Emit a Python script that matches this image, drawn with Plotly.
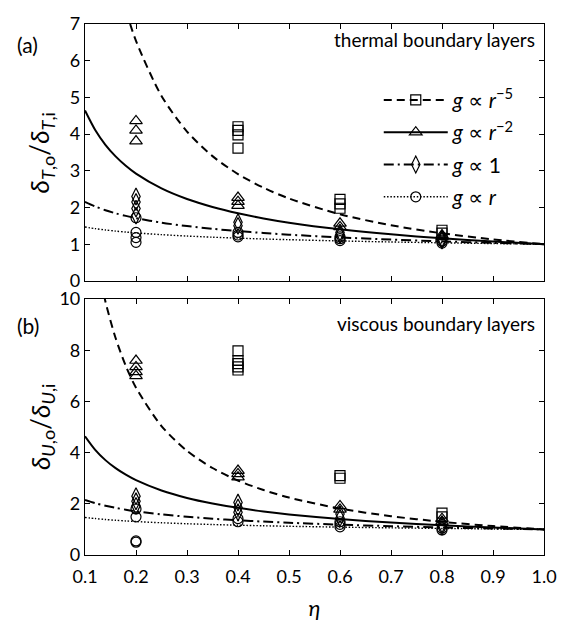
import plotly.graph_objects as go

# ---------------- data ----------------
# theoretical curves
eta_curve = [0.1, 0.12, 0.14, 0.16, 0.18, 0.2, 0.25, 0.3, 0.35, 0.4, 0.45, 0.5, 0.6, 0.7, 0.8, 0.9, 1.0]
curve_r5 = [14.68, 11.87, 9.91, 8.48, 7.39, 6.54, 5.04, 4.07, 3.40, 2.91, 2.54, 2.245, 1.815, 1.516, 1.297, 1.131, 1.0]
curve_r2 = [4.642, 4.111, 3.708, 3.393, 3.137, 2.924, 2.520, 2.231, 2.014, 1.842, 1.703, 1.587, 1.406, 1.268, 1.160, 1.073, 1.0]
curve_1 = [2.154, 2.028, 1.926, 1.842, 1.771, 1.710, 1.587, 1.494, 1.419, 1.357, 1.305, 1.260, 1.186, 1.126, 1.077, 1.036, 1.0]
curve_r = [1.468, 1.424, 1.388, 1.357, 1.331, 1.308, 1.260, 1.222, 1.191, 1.165, 1.142, 1.1225, 1.089, 1.061, 1.038, 1.018, 1.0]

# (a) thermal boundary layers
T_r5_eta = [0.4, 0.4, 0.4, 0.4, 0.6, 0.6, 0.6, 0.8, 0.8]
T_r5_val = [4.2, 4.1, 3.98, 3.62, 2.22, 2.1, 1.98, 1.38, 1.3]
T_r2_eta = [0.2, 0.2, 0.2, 0.4, 0.4, 0.4, 0.6, 0.6, 0.8, 0.8]
T_r2_val = [4.36, 4.1, 3.81, 2.27, 2.16, 2.05, 1.57, 1.47, 1.25, 1.2]
T_1_eta = [0.2, 0.2, 0.2, 0.2, 0.4, 0.4, 0.6, 0.6, 0.8, 0.8]
T_1_val = [2.3, 2.15, 1.97, 1.78, 1.6, 1.5, 1.32, 1.25, 1.15, 1.1]
T_r_eta = [0.2, 0.2, 0.2, 0.2, 0.4, 0.4, 0.4, 0.6, 0.6, 0.6, 0.8, 0.8]
T_r_val = [1.72, 1.32, 1.18, 1.05, 1.32, 1.25, 1.2, 1.2, 1.15, 1.1, 1.08, 1.03]

# (b) viscous boundary layers
U_r5_eta = [0.4, 0.4, 0.4, 0.4, 0.4, 0.6, 0.6, 0.8, 0.8]
U_r5_val = [7.98, 7.6, 7.48, 7.35, 7.23, 3.1, 3.0, 1.64, 1.49]
U_r2_eta = [0.2, 0.2, 0.2, 0.2, 0.4, 0.4, 0.4, 0.6, 0.6, 0.8, 0.8]
U_r2_val = [7.6, 7.35, 7.16, 7.0, 3.3, 3.17, 3.04, 1.92, 1.78, 1.42, 1.3]
U_1_eta = [0.2, 0.2, 0.2, 0.4, 0.4, 0.4, 0.6, 0.6, 0.8, 0.8]
U_1_val = [2.3, 2.1, 1.92, 2.05, 1.86, 1.67, 1.6, 1.45, 1.2, 1.1]
U_r_eta = [0.2, 0.2, 0.2, 0.2, 0.4, 0.4, 0.6, 0.6, 0.6, 0.8, 0.8]
U_r_val = [1.8, 1.49, 0.55, 0.5, 1.42, 1.3, 1.3, 1.2, 1.1, 1.05, 0.98]

x_ticks = [0.1, 0.2, 0.3, 0.4, 0.5, 0.6, 0.7, 0.8, 0.9, 1.0]
x_ticklabels = ["0.1", "0.2", "0.3", "0.4", "0.5", "0.6", "0.7", "0.8", "0.9", "1.0"]
yT_ticks = [0, 1, 2, 3, 4, 5, 6, 7]
yU_ticks = [0, 2, 4, 6, 8, 10]

legend_names = ["<i>g</i> ∝ <i>r</i><sup>−5</sup>", "<i>g</i> ∝ <i>r</i><sup>−2</sup>",
                "<i>g</i> ∝ 1", "<i>g</i> ∝ <i>r</i>"]
ytitle_T = "<i>δ</i><sub><i>T</i>,o</sub>/<i>δ</i><sub><i>T</i>,i</sub>"
ytitle_U = "<i>δ</i><sub><i>U</i>,o</sub>/<i>δ</i><sub><i>U</i>,i</sub>"

# ---------------- styles ----------------
FONT = "Lato, DejaVu Sans, sans-serif"
styles = [
    dict(dash="8px,5px", width=2.0, symbol="square-open", size=10),
    dict(dash="solid", width=2.0, symbol="triangle-up-open", size=11),
    dict(dash="10px,4px,2px,4px", width=2.0, symbol="diamond-tall-open", size=12),
    dict(dash="1.5px,1.8px", width=1.4, symbol="circle-open", size=10),
]
curves = [curve_r5, curve_r2, curve_1, curve_r]
T_sets = [(T_r5_eta, T_r5_val), (T_r2_eta, T_r2_val), (T_1_eta, T_1_val), (T_r_eta, T_r_val)]
U_sets = [(U_r5_eta, U_r5_val), (U_r2_eta, U_r2_val), (U_1_eta, U_1_val), (U_r_eta, U_r_val)]

fig = go.Figure()
for panel, (sets, xa, ya) in enumerate([(T_sets, "x", "y"), (U_sets, "x2", "y2")]):
    for k in range(4):
        st = styles[k]
        fig.add_trace(go.Scatter(
            x=eta_curve, y=curves[k], mode="lines", xaxis=xa, yaxis=ya,
            line=dict(color="black", width=st["width"], dash=st["dash"], shape="spline", smoothing=0.8),
            showlegend=False, hoverinfo="skip"))
        ex, ev = sets[k]
        fig.add_trace(go.Scatter(
            x=ex, y=ev, mode="markers", xaxis=xa, yaxis=ya,
            marker=dict(symbol=st["symbol"], size=st["size"], color="black",
                        line=dict(color="black", width=1.2)),
            showlegend=False, cliponaxis=False))

# legend entries
for k in range(4):
    st = styles[k]
    fig.add_trace(go.Scatter(
        x=[None], y=[None], mode="lines+markers", xaxis="x", yaxis="y",
        name=legend_names[k], legendgroup=f"g{k}",
        line=dict(color="black", width=st["width"], dash=st["dash"]),
        marker=dict(symbol=st["symbol"], size=st["size"], color="black",
                    line=dict(color="black", width=1.2))))

axis_common = dict(showline=True, linecolor="black", linewidth=1.2, mirror="ticks",
                   ticks="inside", ticklen=5, tickwidth=1, tickcolor="black",
                   showgrid=False, zeroline=False,
                   tickfont=dict(family=FONT, size=18, color="black"))

fig.update_layout(
    width=570, height=628,
    margin=dict(l=85, r=26, t=14, b=60),
    paper_bgcolor="white", plot_bgcolor="white",
    font=dict(family=FONT, color="black"),
    xaxis=dict(domain=[0, 1], anchor="y", range=[0.1, 1.0], tickvals=x_ticks,
               showticklabels=False, matches="x2", **axis_common),
    xaxis2=dict(domain=[0, 1], anchor="y2", range=[0.1, 1.0], tickvals=x_ticks,
                ticktext=x_ticklabels, ticklabelstandoff=5,
                title=dict(text="<i>η</i>", font=dict(family=FONT, size=22), standoff=14),
                **axis_common),
    yaxis=dict(domain=[0.5162, 1], anchor="x", range=[0, 7], tickvals=yT_ticks, **axis_common),
    yaxis2=dict(domain=[0, 0.4819], anchor="x2", range=[0, 10], tickvals=yU_ticks, **axis_common),
    legend=dict(x=0.64, y=0.895, xanchor="left", yanchor="top",
                bgcolor="rgba(0,0,0,0)", tracegroupgap=2,
                font=dict(family=FONT, size=21, color="black"),
                itemwidth=64),
    showlegend=True,
)

# y-axis titles
fig.add_annotation(text=ytitle_T, xref="x domain", yref="y domain", x=-0.096, y=0.5,
                   xanchor="center", yanchor="middle", textangle=-90, showarrow=False,
                   font=dict(family=FONT, size=26, color="black"))
fig.add_annotation(text=ytitle_U, xref="x2 domain", yref="y2 domain", x=-0.096, y=0.5,
                   xanchor="center", yanchor="middle", textangle=-90, showarrow=False,
                   font=dict(family=FONT, size=26, color="black"))

fig.add_annotation(text="thermal boundary layers", xref="x domain", yref="y domain",
                   x=0.985, y=0.94, xanchor="right", yanchor="middle", showarrow=False,
                   font=dict(family=FONT, size=19, color="black"))
fig.add_annotation(text="viscous boundary layers", xref="x2 domain", yref="y2 domain",
                   x=0.985, y=0.905, xanchor="right", yanchor="middle", showarrow=False,
                   font=dict(family=FONT, size=19, color="black"))
fig.add_annotation(text="(a)", xref="x domain", yref="y domain",
                   x=-0.125, y=0.922, xanchor="center", yanchor="middle", showarrow=False,
                   font=dict(family=FONT, size=21, color="black"))
fig.add_annotation(text="(b)", xref="x2 domain", yref="y2 domain",
                   x=-0.125, y=0.895, xanchor="center", yanchor="middle", showarrow=False,
                   font=dict(family=FONT, size=21, color="black"))

fig.write_html("out.html")
